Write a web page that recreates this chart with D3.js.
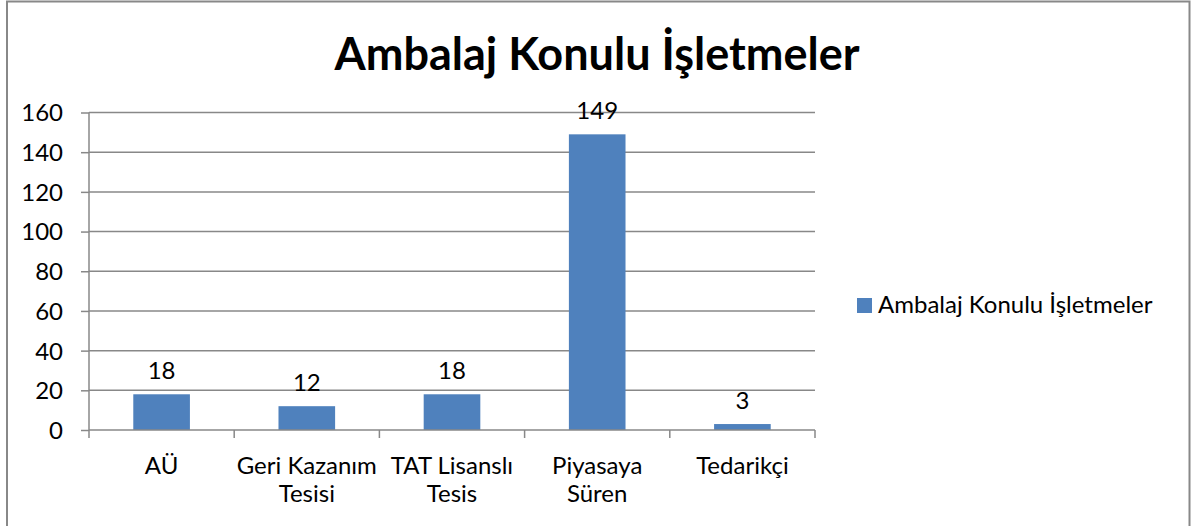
<!DOCTYPE html>
<html><head><meta charset="utf-8">
<script src="https://cdn.jsdelivr.net/npm/d3@7"></script>
<style>body{margin:0;background:#fff;} text{font-family:Lato,"Open Sans",sans-serif;fill:#000;}</style>
</head><body>
<svg id="c" width="1191" height="526"></svg>
<script>
const categories = [["AÜ"], ["Geri Kazanım","Tesisi"], ["TAT Lisanslı","Tesis"], ["Piyasaya","Süren"], ["Tedarikçi"]];
const values = [18, 12, 18, 149, 3];
const yTicks = [0, 20, 40, 60, 80, 100, 120, 140, 160];
const seriesName = "Ambalaj Konulu İşletmeler";
const title = "Ambalaj Konulu İşletmeler";

const svg = d3.select("#c");
svg.append("rect").attr("x",7).attr("y",1.5).attr("width",1182.5).attr("height",540)
  .attr("fill","none").attr("stroke","#888").attr("stroke-width",2);

const L=89, R=815, T=112.5, B=430;
const x = d3.scaleBand().domain(d3.range(categories.length)).range([L,R]).paddingInner(0.61).paddingOuter(0.305);
const xb = d3.scaleBand().domain(d3.range(categories.length)).range([L,R]);
const y = d3.scaleLinear().domain([0,160]).range([B,T]);

// gridlines
svg.append("g").selectAll("line").data(yTicks.filter(d=>d>0)).join("line")
  .attr("x1",L).attr("x2",R).attr("y1",d=>y(d)).attr("y2",d=>y(d))
  .attr("stroke","#888").attr("stroke-width",1.5);

// y axis
const ya = svg.append("g").attr("transform",`translate(${L},0)`)
  .call(d3.axisLeft(y).tickValues(yTicks).tickSize(8).tickPadding(18));
ya.attr("font-family",null).attr("font-size",null);
ya.select(".domain").attr("stroke","#888").attr("stroke-width",1.5).attr("d",`M0,${T}V${B}`);
ya.selectAll(".tick line").attr("stroke","#888").attr("stroke-width",1.5);
ya.selectAll(".tick text").style("font-size","24px").attr("dy","0.35em");

// bars
svg.append("g").selectAll("rect").data(values).join("rect")
  .attr("x",(d,i)=>x(i)).attr("width",x.bandwidth())
  .attr("y",d=>y(d)).attr("height",d=>B-y(d)).attr("fill","#4F81BD");

// x axis line & ticks
svg.append("line").attr("x1",L).attr("x2",R).attr("y1",B).attr("y2",B).attr("stroke","#888").attr("stroke-width",1.5);
svg.append("g").selectAll("line").data(d3.range(categories.length+1)).join("line")
  .attr("x1",i=>i<categories.length?xb(i):R).attr("x2",i=>i<categories.length?xb(i):R)
  .attr("y1",B).attr("y2",B+8).attr("stroke","#888").attr("stroke-width",1.5);

// x labels
const xl = svg.append("g").selectAll("text").data(categories).join("text")
  .attr("x",(d,i)=>xb(i)+xb.bandwidth()/2).attr("y",474).attr("text-anchor","middle")
  .style("font-size","24px");
xl.selectAll("tspan").data(d=>d).join("tspan")
  .attr("x",function(){return this.parentNode.getAttribute("x");})
  .attr("dy",(d,i)=>i?28:0).text(d=>d);

// data labels
svg.append("g").selectAll("text").data(values).join("text")
  .attr("x",(d,i)=>x(i)+x.bandwidth()/2).attr("y",d=>y(d)-15).attr("text-anchor","middle")
  .style("font-size","24px").text(d=>d);

// title
svg.append("text").attr("x",597).attr("y",70).attr("text-anchor","middle")
  .style("font-size","45px").style("font-weight","bold").text(title);

// legend
svg.append("rect").attr("x",857).attr("y",298).attr("width",15).attr("height",15).attr("fill","#4F81BD");
svg.append("text").attr("x",878).attr("y",313).style("font-size","24px").text(seriesName);
</script>
</body></html>
